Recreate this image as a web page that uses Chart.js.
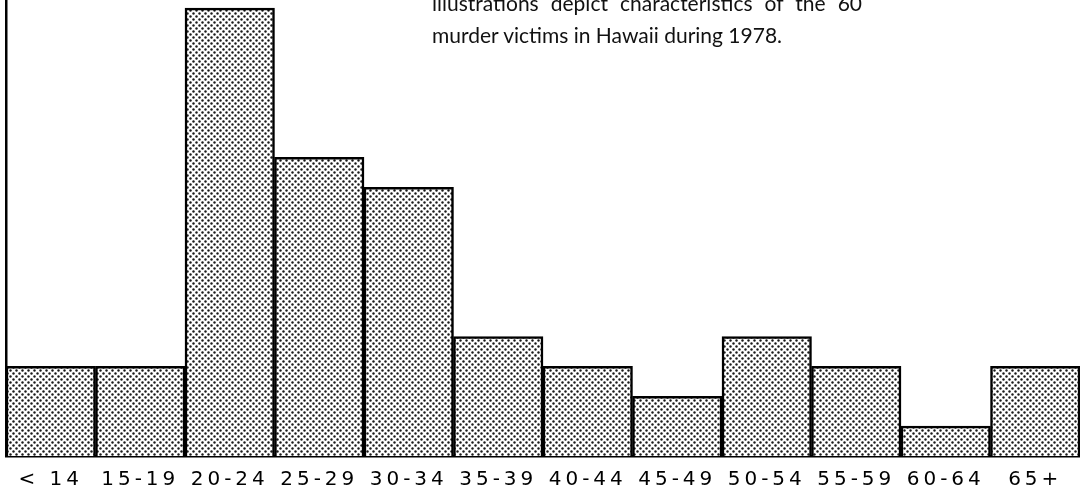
<!DOCTYPE html>
<html>
<head>
<meta charset="utf-8">
<script src="https://cdn.jsdelivr.net/npm/chart.js@4.4.3/dist/chart.umd.min.js"></script>
<style>
  html, body { margin: 0; padding: 0; background: #fff; }
  #wrap { position: relative; width: 1080px; height: 492px; overflow: hidden; }
  #chart { position: absolute; left: 0; top: 0; }
  .note { position: absolute; left: 432px; width: 430px; font-family: 'Lato', sans-serif; font-size: 21px; color: #111; line-height: 32px; white-space: nowrap; }
  #line1 { top: -13px; text-align: justify; text-align-last: justify; white-space: normal; }
  #line2 { top: 19px; }
</style>
</head>
<body>
<div id="wrap">
  <canvas id="chart" width="1080" height="492"></canvas>
  <div class="note" id="line1">illustrations depict characteristics of the 60</div>
  <div class="note" id="line2">murder victims in Hawaii during 1978.</div>
</div>
<script>
const ageGroups = ['< 14', '15-19', '20-24', '25-29', '30-34', '35-39', '40-44', '45-49', '50-54', '55-59', '60-64', '65+'];
const victims = [3, 3, 15, 10, 9, 4, 3, 2, 4, 3, 1, 3];

// halftone-like dot fill
function dotPattern(ctx) {
    const c = document.createElement('canvas');
    c.width = 6; c.height = 6;
    const p = c.getContext('2d');
    p.fillStyle = '#fff';
    p.fillRect(0, 0, 6, 6);
    p.fillStyle = '#1a1a1a';
    [[1.5, 1.5], [4.5, 4.5]].forEach(([x, y]) => {
        p.beginPath();
        p.arc(x, y, 1.2, 0, Math.PI * 2);
        p.fill();
    });
    return ctx.createPattern(c, 'repeat');
}

const canvas = document.getElementById('chart');
const ctx = canvas.getContext('2d');

const spacing = {
    id: 'spacing',
    beforeDraw(chart) { chart.ctx.letterSpacing = '4px'; }
};

new Chart(ctx, {
    type: 'bar',
    data: {
        labels: ageGroups,
        datasets: [{
            data: victims,
            backgroundColor: dotPattern(ctx),
            borderColor: '#000',
            borderWidth: 2.5,
            borderSkipped: 'bottom',
            categoryPercentage: 1,
            barPercentage: 1
        }]
    },
    options: {
        responsive: false,
        animation: false,
        layout: { padding: { left: 6, right: 0, top: 0, bottom: 0 } },
        plugins: { legend: { display: false }, tooltip: { enabled: false } },
        scales: {
            x: {
                grid: { display: false, drawTicks: false },
                border: { display: true, color: '#000', width: 2.5 },
                ticks: {
                    color: '#000',
                    padding: 12,
                    maxRotation: 0,
                    autoSkip: false,
                    font: { family: 'DejaVu Sans', size: 20 }
                },
                afterFit(scale) { scale.height = 36; }
            },
            y: {
                min: 0,
                max: 15.27,
                grid: { display: false, drawTicks: false },
                border: { display: true, color: '#000', width: 2.5 },
                ticks: { display: false },
                afterFit(scale) { scale.width = 0; }
            }
        }
    },
    plugins: [spacing]
});
</script>
</body>
</html>
